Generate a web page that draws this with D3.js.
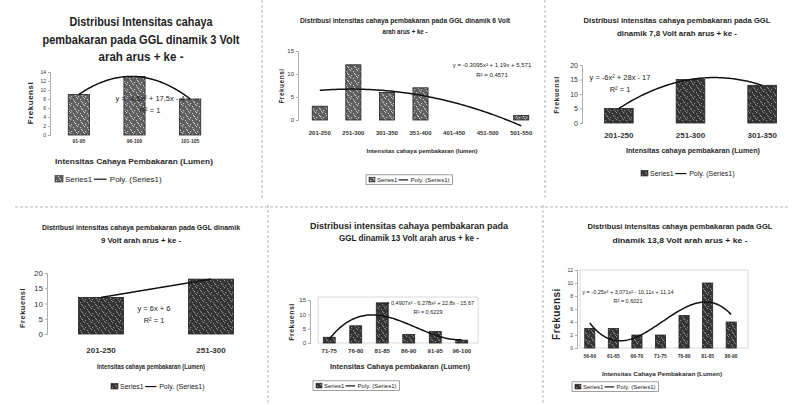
<!DOCTYPE html>
<html lang="id">
<head>
<meta charset="utf-8"/>
<title>Distribusi intensitas cahaya pembakaran</title>
<script src="https://cdn.jsdelivr.net/npm/d3@7/dist/d3.min.js"></script>
<style>
  html,body { margin:0; padding:0; background:#fff; overflow:hidden; }
  svg { display:block; font-family:"Liberation Sans Narrow","Arial Narrow","Liberation Sans",Arial,sans-serif; }
  .title  { font-weight:bold; fill:#1e1e1e; text-anchor:middle; }
  .axis path, .axis line { stroke:#9a9a9a; stroke-width:0.8; }
  .axis text { fill:#333; }
  .xt     { font-weight:bold; fill:#2a2a2a; text-anchor:middle; }
  .eq     { fill:#222; text-anchor:middle; }
  .trend  { fill:none; stroke:#111; stroke-width:1.5; }
  .sep    { stroke:#b5b5b5; stroke-width:1; stroke-dasharray:3 2; }
  .frame  { fill:none; stroke:#d0d0d0; stroke-width:0.8; }
</style>
</head>
<body>
<svg width="793" height="405"></svg>
<script>
// ---- data ----
const title3V   = ["Distribusi Intensitas cahaya", "pembakaran pada GGL dinamik 3 Volt", "arah arus + ke -"];
const cats3V    = ["91-95", "96-100", "101-105"];
const vals3V    = [9, 13, 8];
const ticks3V   = [0, 2, 4, 6, 8, 10, 12, 14];

const title6V   = ["Distribusi intensitas cahaya pembakaran pada GGL dinamik 6 Volt", "arah arus + ke -"];
const cats6V    = ["201-250", "251-300", "301-350", "351-400", "401-450", "451-500", "501-550"];
const vals6V    = [3, 12, 6, 7, 0, 0, 1];
const ticks6V   = [0, 5, 10, 15];

const title78V  = ["Distribusi intensitas cahaya pembakaran pada GGL", "dinamik 7,8 Volt arah arus + ke -"];
const cats78V   = ["201-250", "251-300", "301-350"];
const vals78V   = [5, 15, 13];
const ticks78V  = [0, 5, 10, 15, 20];

const title9V   = ["Distribusi intensitas cahaya pembakaran pada GGL dinamik", "9 Volt arah arus + ke -"];
const cats9V    = ["201-250", "251-300"];
const vals9V    = [12, 18];
const ticks9V   = [0, 5, 10, 15, 20];

const title13V  = ["Distribusi intensitas cahaya pembakaran pada", "GGL dinamik 13 Volt arah arus + ke -"];
const cats13V   = ["71-75", "76-80", "81-85", "86-90", "91-95", "96-100"];
const vals13V   = [2, 6, 14, 3, 4, 1];
const ticks13V  = [0, 5, 10, 15];

const title138V = ["Distribusi intensitas cahaya pembakaran pada GGL", "dinamik 13,8 Volt arah arus + ke -"];
const cats138V  = ["56-60", "61-65", "66-70", "71-75", "76-80", "81-85", "86-90"];
const vals138V  = [3, 3, 2, 2, 5, 10, 4];
const ticks138V = [0, 2, 4, 6, 8, 10, 12];

// ---- tata letak tiap panel ----
const panels = [
  { title:title3V, tF:12, tW:[143,197,85], tX:141, tY:[26,44,61], cats:cats3V, vals:vals3V, ticks:ticks3V, order:2,
    xr:[51,218], pad:0.62, base:135, top:72, axX:50, tkF:5, xlY:145, xlF:5,
    xt:"Intensitas Cahaya Pembakaran (Lumen)", xtX:134, xtW:158, xtY:164, xtF:7.5, ytX:33, ytY:103, ytF:8,
    eqX:150, eqY:101, eqF:7.5, legX:55, legY:182, legF:8, legBox:false, fill:"url(#speckLight)" },
  { title:title6V, tF:7, tW:[210,45], tX:405, tY:[23,34], cats:cats6V, vals:vals6V, ticks:ticks6V, order:2,
    xr:[303,538], pad:0.55, base:120, top:51, axX:298, tkF:6, xlY:137, xlF:6,
    xt:"Intensitas cahaya pembakaran (lumen)", xtX:422, xtW:111, xtY:153, xtF:6, ytX:284, ytY:86, ytF:6.5,
    eqX:492, eqY:67, eqF:6, legX:369, legY:182, legF:6, legBox:true, fill:"url(#speckLight)" },
  { title:title78V, tF:7.5, tW:[187,120], tX:677, tY:[23,36], cats:cats78V, vals:vals78V, ticks:ticks78V, order:2,
    xr:[583,798], pad:0.6, base:123, top:65, axX:582, tkF:7, xlY:138, xlF:8,
    xt:"Intensitas cahaya pembakaran (Lumen)", xtX:693, xtW:134, xtY:153, xtF:7, ytX:559, ytY:95, ytF:7,
    eqX:620, eqY:80, eqF:7.5, legX:641, legY:176, legF:7, legBox:false, fill:"url(#speckDark)" },
  { title:title9V, tF:8, tW:[198,80], tX:141, tY:[230,243], cats:cats9V, vals:vals9V, ticks:ticks9V, order:1,
    xr:[46,266], pad:0.59, base:334, top:273, axX:47, tkF:8, xlY:353, xlF:8,
    xt:"Intensitas cahaya pembakaran (Lumen)", xtX:151, xtW:108, xtY:369, xtF:7, ytX:25, ytY:308, ytF:7.5,
    eqX:154, eqY:311, eqF:7.5, legX:111, legY:389, legF:7, legBox:false, fill:"url(#speckDark)" },
  { title:title13V, tF:9, tW:[198,140], tX:409, tY:[229,241], cats:cats13V, vals:vals13V, ticks:ticks13V, order:3,
    xr:[316,475], pad:0.55, base:343, top:300, axX:310, tkF:6, xlY:355, xlF:6,
    xt:"Intensitas Cahaya pembakaran (Lumen)", xtX:400, xtW:140, xtY:369, xtF:6.5, ytX:294, ytY:322, ytF:7,
    eqX:428, eqY:305, eqF:5.5, legX:316, legY:388, legF:6, legBox:true, fill:"url(#speckDark)",
    frame:[318,297,478,343] },
  { title:title138V, tF:7.5, tW:[185,135], tX:680, tY:[229,243], cats:cats138V, vals:vals138V, ticks:ticks138V, order:3,
    xr:[578,743], pad:0.57, base:348, top:270, axX:577, tkF:5, xlY:360, xlF:5,
    xt:"Intensitas Cahaya Pembakaran (Lumen)", xtX:662, xtW:120, xtY:376, xtF:6, ytX:560, ytY:314, ytF:10,
    eqX:628, eqY:294, eqF:5.5, legX:575, legY:389, legF:6, legBox:true, fill:"url(#speckDark)",
    frame:[580,270,748,348] }
];

const svg = d3.select("svg");

// tekstur batang (seperti hasil scan)
const defs = svg.append("defs");
function speck(id, base, dot) {
  const p = defs.append("pattern").attr("id", id)
    .attr("patternUnits", "userSpaceOnUse").attr("width", 7).attr("height", 7);
  p.append("rect").attr("width", 7).attr("height", 7).attr("fill", base);
  [[0,0],[3,1],[5,4],[1,5],[4,3],[6,6]].forEach(([x,y]) =>
    p.append("rect").attr("x", x).attr("y", y).attr("width", 1.2).attr("height", 1.2).attr("fill", dot));
}
speck("speckLight", "#5e5e5e", "#c8c8c8");
speck("speckDark",  "#333333", "#8a8a8a");

// garis pemisah antar gambar
[[262,0,262,200],[545,0,545,200],[268,205,268,405],[543,205,543,405],[15,207,790,207]]
  .forEach(([x1,y1,x2,y2]) => svg.append("line").attr("class","sep")
    .attr("x1",x1).attr("y1",y1).attr("x2",x2).attr("y2",y2));

// regresi polinomial (kuadrat terkecil)
function polyfit(xs, ys, order) {
  const m = order + 1;
  const A = d3.range(m).map(() => new Array(m + 1).fill(0));
  xs.forEach((x, k) => {
    for (let i = 0; i < m; i++) {
      for (let j = 0; j < m; j++) A[i][j] += Math.pow(x, i + j);
      A[i][m] += ys[k] * Math.pow(x, i);
    }
  });
  for (let i = 0; i < m; i++) {
    let piv = i;
    for (let r = i + 1; r < m; r++) if (Math.abs(A[r][i]) > Math.abs(A[piv][i])) piv = r;
    [A[i], A[piv]] = [A[piv], A[i]];
    for (let r = 0; r < m; r++) {
      if (r === i) continue;
      const f = A[r][i] / A[i][i];
      for (let c = i; c <= m; c++) A[r][c] -= f * A[i][c];
    }
  }
  return A.map((row, i) => row[m] / A[i][i]);
}
const evalPoly = (c, x) => c.reduce((s, v, i) => s + v * Math.pow(x, i), 0);
const num = v => String(+(Math.abs(v)).toPrecision(4)).replace(".", ",");
const sup = ["", "", "²", "³", "⁴"];
function eqText(c) {
  let s = "y = ";
  for (let i = c.length - 1; i >= 0; i--) {
    const v = Math.abs(c[i]) < 1e-9 ? 0 : c[i];
    const part = num(v) === "1" && i > 0 ? "" : num(v);
    const term = part + (i > 0 ? "x" + sup[i] : "");
    if (i === c.length - 1) s += (v < 0 ? "-" : "") + term;
    else s += (v < 0 ? " - " : " + ") + term;
  }
  return s;
}

panels.forEach(p => {
  const g = svg.append("g");
  const n = p.cats.length;

  // judul
  p.title.forEach((t, i) => g.append("text").attr("class","title")
    .attr("x", p.tX).attr("y", p.tY[i]).style("font-size", p.tF + "px")
    .attr("textLength", p.tW[i]).attr("lengthAdjust", "spacingAndGlyphs").text(t));

  if (p.frame) {
    const [x1, y1, x2, y2] = p.frame;
    g.append("rect").attr("class","frame").attr("x", x1).attr("y", y1)
      .attr("width", x2 - x1).attr("height", y2 - y1);
  }

  const x = d3.scaleBand().domain(p.cats).range(p.xr)
    .paddingInner(p.pad).paddingOuter(p.pad / 2);
  const yMax = d3.max(p.ticks);
  const y = d3.scaleLinear().domain([0, yMax]).range([p.base, p.top]);

  // sumbu Y
  g.append("g").attr("class","axis").attr("transform", `translate(${p.axX},0)`)
    .call(d3.axisLeft(y).tickValues(p.ticks).tickSize(2).tickPadding(2))
    .call(a => a.selectAll("text").style("font-size", p.tkF + "px"));

  // batang
  g.selectAll("rect.bar").data(p.vals).join("rect")
    .attr("class","bar")
    .attr("x", (d, i) => x(p.cats[i])).attr("width", x.bandwidth())
    .attr("y", d => y(d)).attr("height", d => p.base - y(d))
    .attr("fill", p.fill).attr("stroke", "#222").attr("stroke-width", 0.8);

  // label kategori
  g.append("g").attr("class","axis").attr("transform", `translate(0,${p.xlY - 8})`)
    .call(d3.axisBottom(x).tickSize(0).tickPadding(2))
    .call(a => a.select(".domain").remove())
    .call(a => a.selectAll("text").style("font-size", p.xlF + "px").style("font-weight","bold"));

  // garis tren polinomial
  const xs = d3.range(1, n + 1);
  const coef = polyfit(xs, p.vals, p.order);
  const cx = t => x(p.cats[0]) + x.bandwidth() / 2 + (t - 1) * x.step();
  const pts = d3.range(0, 101).map(k => 1 + (n - 1) * k / 100);
  g.append("path").attr("class","trend")
    .attr("d", d3.line().x(cx).y(t => y(evalPoly(coef, t)))(pts));

  // persamaan + R²
  const mean = d3.mean(p.vals);
  const ssTot = d3.sum(p.vals, v => (v - mean) ** 2);
  const ssRes = d3.sum(p.vals, (v, i) => (v - evalPoly(coef, i + 1)) ** 2);
  const r2 = 1 - ssRes / ssTot;
  g.append("text").attr("class","eq").attr("x", p.eqX).attr("y", p.eqY)
    .style("font-size", p.eqF + "px").text(eqText(coef));
  g.append("text").attr("class","eq").attr("x", p.eqX).attr("y", p.eqY + p.eqF * 1.6)
    .style("font-size", p.eqF + "px").text("R² = " + num(+r2.toFixed(4)));

  // judul sumbu
  g.append("text").attr("class","xt").attr("x", p.xtX).attr("y", p.xtY)
    .style("font-size", p.xtF + "px")
    .attr("textLength", p.xtW).attr("lengthAdjust", "spacingAndGlyphs").text(p.xt);
  g.append("text").attr("class","xt")
    .attr("transform", `translate(${p.ytX},${p.ytY}) rotate(-90)`)
    .style("font-size", p.ytF + "px").style("letter-spacing", "0.5px").text("Frekuensi");

  // legenda
  const lg = g.append("g").attr("transform", `translate(${p.legX},${p.legY})`);
  const fs = p.legF;
  lg.append("rect").attr("x", 0).attr("y", -fs * 0.8).attr("width", fs).attr("height", fs * 0.8)
    .attr("fill", p.fill).attr("stroke", "#222").attr("stroke-width", 0.6);
  lg.append("text").attr("x", fs + 2).attr("y", 0).style("font-size", fs + "px").attr("fill", "#222").text("Series1");
  const lx = fs + 2 + fs * 3.6;
  lg.append("line").attr("x1", lx).attr("x2", lx + fs * 1.6).attr("y1", -fs * 0.35).attr("y2", -fs * 0.35)
    .attr("stroke", "#111").attr("stroke-width", 1.2);
  const lt = lg.append("text").attr("x", lx + fs * 2).attr("y", 0).style("font-size", fs + "px")
    .attr("fill", "#222").text("Poly. (Series1)");
  if (p.legBox) {
    const w = lx + fs * 2 + lt.node().getComputedTextLength() + 3;
    lg.insert("rect", ":first-child").attr("x", -3).attr("y", -fs * 1.2).attr("width", w + 3).attr("height", fs * 1.6)
      .attr("fill", "none").attr("stroke", "#777").attr("stroke-width", 0.7);
  }
});
</script>
</body>
</html>
